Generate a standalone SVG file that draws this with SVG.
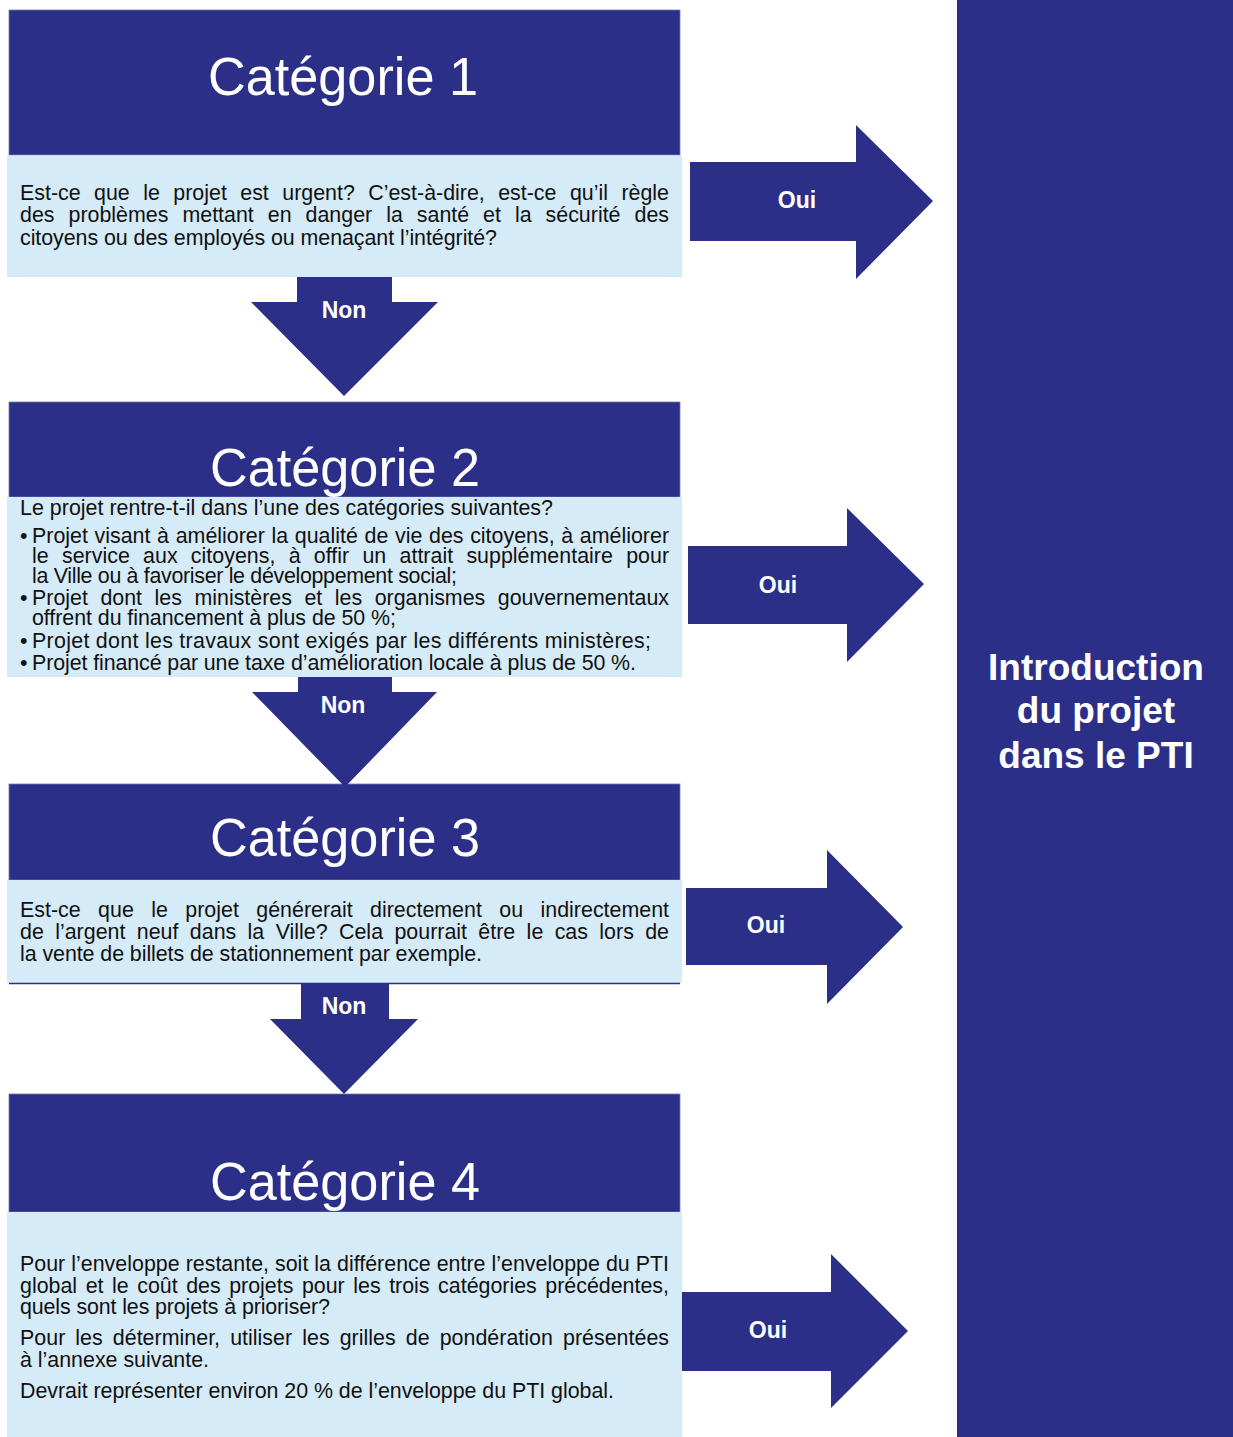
<svg xmlns="http://www.w3.org/2000/svg" width="1233" height="1437" viewBox="0 0 1233 1437">
<style>
.hd{fill:#2c2f87;stroke:#7477b3;stroke-width:0.8}
.bx{fill:#d5ebf7}
.ar{fill:#2c2f87}
.ttl{font-family:"Liberation Sans",Arial,sans-serif;font-size:53px;fill:#ffffff;text-anchor:middle}
.tx{font-family:"Liberation Sans",Arial,sans-serif;font-size:21.4px;fill:#111111}
.lb{font-family:"Liberation Sans",Arial,sans-serif;font-size:23px;font-weight:bold;fill:#ffffff;text-anchor:middle}
.big{font-family:"Liberation Sans",Arial,sans-serif;font-size:37px;font-weight:bold;fill:#ffffff;text-anchor:middle}
</style>
<rect width="1233" height="1437" fill="#ffffff"/>

<g id="result">
<rect x="957" y="0" width="276" height="1437" fill="#2c2f87"/>
<text class="big" x="1096" y="680">Introduction</text>
<text class="big" x="1096" y="723">du projet</text>
<text class="big" x="1096" y="768">dans le PTI</text>
</g>

<g id="cat1">
<rect class="hd" x="9" y="10" width="671" height="145"/>
<text class="ttl" x="343" y="95" textLength="270" lengthAdjust="spacingAndGlyphs">Catégorie 1</text>
<rect class="bx" x="7" y="155.5" width="675" height="121.5"/>
<text class="tx" x="20" y="200" word-spacing="7.5" textLength="649" lengthAdjust="spacing">Est-ce que le projet est urgent? C’est-à-dire, est-ce qu’il règle</text>
<text class="tx" x="20" y="222" word-spacing="8" textLength="649" lengthAdjust="spacing">des problèmes mettant en danger la santé et la sécurité des</text>
<text class="tx" x="20" y="245" textLength="477" lengthAdjust="spacing">citoyens ou des employés ou menaçant l’intégrité?</text>
</g>

<g id="cat2">
<rect class="hd" x="9" y="402" width="671" height="95"/>
<text class="ttl" x="345" y="486" textLength="270" lengthAdjust="spacingAndGlyphs">Catégorie 2</text>
<rect class="bx" x="7" y="497" width="675" height="180"/>
<text class="tx" x="20" y="515" textLength="533" lengthAdjust="spacing">Le projet rentre-t-il dans l’une des catégories suivantes?</text>
<text class="tx" x="20" y="543">•</text>
<text class="tx" x="32" y="543" word-spacing="0.7" textLength="637" lengthAdjust="spacing">Projet visant à améliorer la qualité de vie des citoyens, à améliorer</text>
<text class="tx" x="32" y="563" word-spacing="7.3" textLength="637" lengthAdjust="spacing">le service aux citoyens, à offir un attrait supplémentaire pour</text>
<text class="tx" x="32" y="583" textLength="425" lengthAdjust="spacing">la Ville ou à favoriser le développement social;</text>
<text class="tx" x="20" y="605">•</text>
<text class="tx" x="32" y="605" word-spacing="6.6" textLength="637" lengthAdjust="spacing">Projet dont les ministères et les organismes gouvernementaux</text>
<text class="tx" x="32" y="625" textLength="364" lengthAdjust="spacing">offrent du financement à plus de 50 %;</text>
<text class="tx" x="20" y="648">•</text>
<text class="tx" x="32" y="648" textLength="619" lengthAdjust="spacing">Projet dont les travaux sont exigés par les différents ministères;</text>
<text class="tx" x="20" y="670">•</text>
<text class="tx" x="32" y="670" textLength="604" lengthAdjust="spacing">Projet financé par une taxe d’amélioration locale à plus de 50 %.</text>
</g>

<g id="cat3">
<rect class="hd" x="9" y="784" width="671" height="96"/>
<text class="ttl" x="345" y="856" textLength="270" lengthAdjust="spacingAndGlyphs">Catégorie 3</text>
<rect class="bx" x="7" y="880" width="675" height="103"/>
<line x1="9" y1="983.5" x2="680" y2="983.5" stroke="#2c2f87" stroke-width="1.5"/>
<text class="tx" x="20" y="917" word-spacing="11.5" textLength="649" lengthAdjust="spacing">Est-ce que le projet générerait directement ou indirectement</text>
<text class="tx" x="20" y="939" word-spacing="5.4" textLength="649" lengthAdjust="spacing">de l’argent neuf dans la Ville? Cela pourrait être le cas lors de</text>
<text class="tx" x="20" y="961" textLength="462" lengthAdjust="spacing">la vente de billets de stationnement par exemple.</text>
</g>

<g id="cat4">
<rect class="hd" x="9" y="1094" width="671" height="118"/>
<text class="ttl" x="345" y="1200" textLength="270" lengthAdjust="spacingAndGlyphs">Catégorie 4</text>
<rect class="bx" x="7" y="1212" width="675" height="225"/>
<text class="tx" x="20" y="1271" textLength="649" lengthAdjust="spacing">Pour l’enveloppe restante, soit la différence entre l’enveloppe du PTI</text>
<text class="tx" x="20" y="1293" word-spacing="2.6" textLength="649" lengthAdjust="spacing">global et le coût des projets pour les trois catégories précédentes,</text>
<text class="tx" x="20" y="1314" textLength="310" lengthAdjust="spacing">quels sont les projets à prioriser?</text>
<text class="tx" x="20" y="1345" word-spacing="4.1" textLength="649" lengthAdjust="spacing">Pour les déterminer, utiliser les grilles de pondération présentées</text>
<text class="tx" x="20" y="1367" textLength="189" lengthAdjust="spacing">à l’annexe suivante.</text>
<text class="tx" x="20" y="1398" textLength="594" lengthAdjust="spacing">Devrait représenter environ 20 % de l’enveloppe du PTI global.</text>
</g>

<g id="connectors">
<g id="oui1">
<polygon class="ar" points="690,162 856,162 856,125 933,201 856,279 856,241 690,241"/>
<text class="lb" x="797" y="208">Oui</text>
</g>
<g id="non1">
<polygon class="ar" points="297,277 392,277 392,302 438,302 344,396 251,302 297,302"/>
<text class="lb" x="344" y="318">Non</text>
</g>
<g id="oui2">
<polygon class="ar" points="688,546 847,546 847,508 924,584 847,662 847,624 688,624"/>
<text class="lb" x="778" y="593">Oui</text>
</g>
<g id="non2">
<polygon class="ar" points="298,677 392,677 392,692 437,692 345,787 252,692 298,692"/>
<text class="lb" x="343" y="713">Non</text>
</g>
<g id="oui3">
<polygon class="ar" points="686,888 827,888 827,850 903,927 827,1004 827,965 686,965"/>
<text class="lb" x="766" y="933">Oui</text>
</g>
<g id="non3">
<polygon class="ar" points="301,983 389,983 389,1019 418,1019 344,1094 270,1019 301,1019"/>
<text class="lb" x="344" y="1014">Non</text>
</g>
<g id="oui4">
<polygon class="ar" points="682,1292 831,1292 831,1254 908,1331 831,1408 831,1371 682,1371"/>
<text class="lb" x="768" y="1338">Oui</text>
</g>
</g>
</svg>
